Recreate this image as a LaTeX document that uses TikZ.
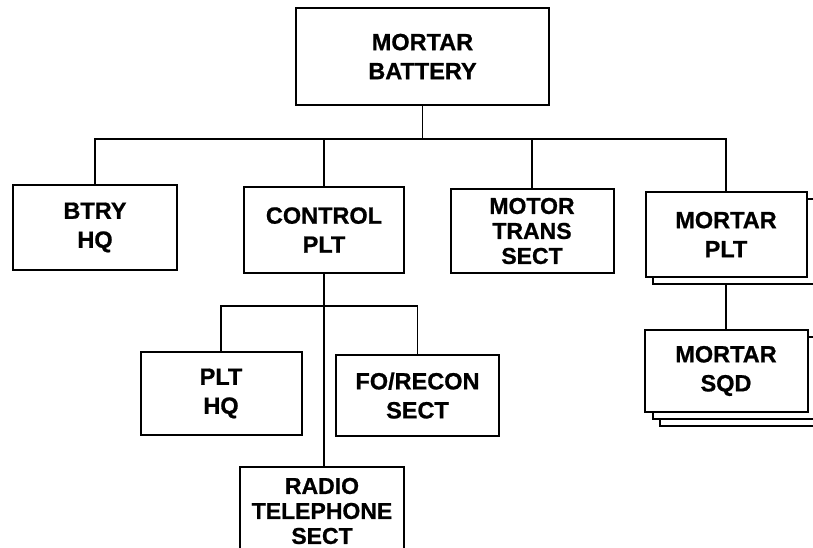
\documentclass[tikz,border=0pt]{standalone}
\usepackage{fontspec}
\setmainfont{Liberation Sans}[BoldFeatures={FakeBold=0.8}]
\usepackage{tikz}
\usetikzlibrary{shadows}

\begin{document}
\begin{tikzpicture}[x=1pt, y=-1pt,
  unit/.style={draw, fill=white, line width=2pt, inner sep=0pt, align=center,
    font=\bfseries\fontsize{23.5}{29}\selectfont},
  three/.style={font=\bfseries\fontsize{23}{25}\selectfont},
  stack1/.style={general shadow={shadow xshift=7pt, shadow yshift=-7pt, fill=white, draw=black, line width=2pt}},
  stack2/.style={general shadow={shadow xshift=15pt, shadow yshift=-14pt, fill=white, draw=black, line width=2pt},
                 general shadow={shadow xshift=8pt, shadow yshift=-7pt, fill=white, draw=black, line width=2pt}},
  link/.style={line width=1.8pt}
]
\useasboundingbox (0,0) rectangle (813,548);

% Battery
\node[unit, minimum width=253pt, minimum height=97pt] (bat) at (422.5,56.5) {MORTAR\\BATTERY};

% Sections under battery
\node[unit, minimum width=164pt, minimum height=85pt] (btry) at (95,227.5) {BTRY\\HQ};
\node[unit, minimum width=160pt, minimum height=86pt] (ctrl) at (324,230) {CONTROL\\PLT};
\node[unit, three, minimum width=163pt, minimum height=84pt] (motor) at (532,231) {MOTOR\\TRANS\\SECT};
\node[unit, stack1, minimum width=161pt, minimum height=85pt] (mplt) at (726,234.5) {MORTAR\\PLT};

% Control platoon
\node[unit, minimum width=161pt, minimum height=83pt] (plthq) at (221,393.5) {PLT\\HQ};
\node[unit, minimum width=163pt, minimum height=81pt] (fo) at (417.5,395.5) {FO/RECON\\SECT};
\node[unit, three, minimum width=164pt, minimum height=88pt] (radio) at (322,511) {RADIO\\TELEPHONE\\SECT};

% Mortar platoon
\node[unit, stack2, minimum width=163pt, minimum height=82pt] (sqd) at (726,371) {MORTAR\\SQD};

% Lines
\foreach \n in {btry,ctrl,motor,mplt}
  \draw[link] (bat.south) -- ++(0,33) -| (\n.north);
\foreach \n in {plthq,fo}
  \draw[link] (ctrl.south) -- ++(0,32) -| (\n.north);
\draw[link] (ctrl.south) -- (ctrl.south |- radio.north);
\draw[link] ([yshift=-7pt]mplt.south) -- (sqd.north);
\end{tikzpicture}
\end{document}
